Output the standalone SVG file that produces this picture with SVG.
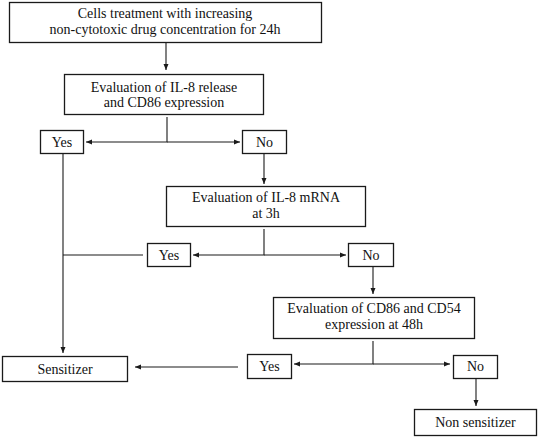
<svg xmlns="http://www.w3.org/2000/svg" width="540" height="437" viewBox="0 0 540 437">
<style>
.box{fill:#fff;stroke:#1a1a1a;stroke-width:1.3}
.t{font-family:"Liberation Serif","Times New Roman",serif;font-size:14px;fill:#111;text-anchor:middle}
.c{fill:none;stroke:#1a1a1a;stroke-width:1.1}
</style>
<defs>
<marker id="ah" markerUnits="userSpaceOnUse" markerWidth="7" markerHeight="6" refX="6" refY="3" orient="auto">
<path d="M0,0.5 L6,3 L0,5.5 Z" fill="#1a1a1a"/>
</marker>
</defs>
<rect width="540" height="437" fill="#fff"/>
<g id="connectors">
<path class="c" d="M166 42 V70" marker-end="url(#ah)"/>
<path class="c" d="M167 117 V142 H86" marker-end="url(#ah)"/>
<path class="c" d="M167 142 H240" marker-end="url(#ah)"/>
<path class="c" d="M264 153 V184" marker-end="url(#ah)"/>
<path class="c" d="M264 229 V255 H193" marker-end="url(#ah)"/>
<path class="c" d="M264 255 H346" marker-end="url(#ah)"/>
<path class="c" d="M143 255 H63"/>
<path class="c" d="M63 153 V353" marker-end="url(#ah)"/>
<path class="c" d="M373 266 V294" marker-end="url(#ah)"/>
<path class="c" d="M373 341 V364 H294" marker-end="url(#ah)"/>
<path class="c" d="M373 364 H450" marker-end="url(#ah)"/>
<path class="c" d="M238 367 H135" marker-end="url(#ah)"/>
<path class="c" d="M476 378 V406" marker-end="url(#ah)"/>
</g>
<g id="n-start"><rect class="box" x="9.5" y="2.5" width="312" height="40"/>
<text class="t" x="165" y="18">Cells treatment with increasing</text>
<text class="t" x="165" y="34">non-cytotoxic drug concentration for 24h</text></g>
<g id="n-eval1"><rect class="box" x="64.5" y="74.5" width="199" height="40"/>
<text class="t" x="164" y="92">Evaluation of IL-8 release</text>
<text class="t" x="164" y="107">and CD86 expression</text></g>
<g id="n-yes1"><rect class="box" x="40.5" y="130.5" width="43" height="23"/>
<text class="t" x="62" y="147">Yes</text></g>
<g id="n-no1"><rect class="box" x="242.5" y="130.5" width="44" height="23"/>
<text class="t" x="264.5" y="147">No</text></g>
<g id="n-eval2"><rect class="box" x="166.5" y="186.5" width="199" height="40"/>
<text class="t" x="266" y="202">Evaluation of IL-8 mRNA</text>
<text class="t" x="266" y="218">at 3h</text></g>
<g id="n-yes2"><rect class="box" x="147.5" y="243.5" width="43" height="23"/>
<text class="t" x="169" y="260">Yes</text></g>
<g id="n-no2"><rect class="box" x="348.5" y="243.5" width="45" height="23"/>
<text class="t" x="371" y="260">No</text></g>
<g id="n-eval3"><rect class="box" x="273.5" y="297.5" width="201" height="41"/>
<text class="t" x="374" y="313">Evaluation of CD86 and CD54</text>
<text class="t" x="374" y="329">expression at 48h</text></g>
<g id="n-yes3"><rect class="box" x="247.5" y="354.5" width="44" height="24"/>
<text class="t" x="269.5" y="371">Yes</text></g>
<g id="n-no3"><rect class="box" x="453.5" y="355.5" width="44" height="23"/>
<text class="t" x="475.5" y="371">No</text></g>
<g id="n-sens"><rect class="box" x="2.5" y="356.5" width="125" height="25"/>
<text class="t" x="65" y="374">Sensitizer</text></g>
<g id="n-nonsens"><rect class="box" x="414.5" y="409.5" width="122" height="26"/>
<text class="t" x="475.5" y="427">Non sensitizer</text></g>
</svg>
